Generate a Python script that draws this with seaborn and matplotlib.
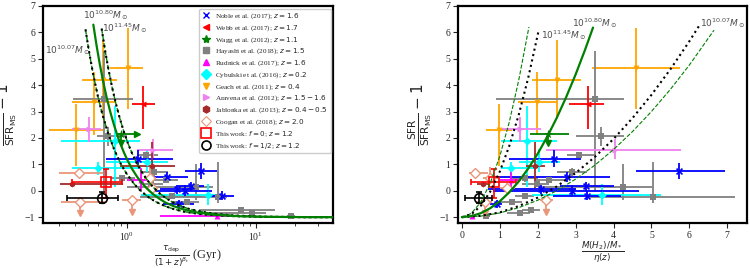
import numpy as np
import matplotlib
matplotlib.use('Agg')
import matplotlib.pyplot as plt
from matplotlib.lines import Line2D
import seaborn as sns

sns.set_style('ticks')
plt.rcParams['font.family'] = ['Liberation Serif', 'DejaVu Serif']
plt.rcParams['mathtext.fontset'] = 'dejavusans'
plt.rcParams['xtick.direction'] = 'out'
plt.rcParams['ytick.direction'] = 'out'

# ---- data: y = SFR/SFR_MS - 1, tau = left x (Gyr), mu = right x ----
# Geach et al. (2011)
geach_y = [2.3, 3.35, 4.2, 4.65]
geach_ylo = [0.95, 2.1, 2.75, 3.1]
geach_yhi = [3.3, 4.5, 5.7, 6.15]
geach_tau = [0.405, 0.56, 0.66, 1.03]
geach_taulo = [0.25, 0.375, 0.45, 0.74]
geach_tauhi = [0.66, 0.81, 0.84, 1.33]
geach_mu = [0.98, 1.99, 2.5, 4.58]
geach_mulo = [0.63, 1.47, 1.86, 3.44]
geach_muhi = [1.33, 2.52, 3.13, 5.76]

# Webb et al. (2017)
webb_y = [3.3]
webb_ylo = [2.35]
webb_yhi = [3.95]
webb_tau = [1.34]
webb_taulo = [1.09]
webb_tauhi = [1.66]
webb_mu = [3.32]
webb_mulo = [2.82]
webb_muhi = [3.75]

# Wagg et al. (2012): limits
wagg_y = [2.15]
wagg_ylim = [1.8]
wagg_tau = [0.9]
wagg_taulo = [0.85]
wagg_tauhi = [1.2]
wagg_mu = [2.27]
wagg_mulo = [1.79]
wagg_muhi = [2.82]

# Hayashi et al. (2018)
hay_y = [3.46, 2.07, 1.35, 0.70, 0.15, -0.23, 0.49, 0.40, 0.27, -0.20, -0.42, -0.71, -0.84, -0.96]
hay_ylo = [0.0, 1.7, 1.25, 0.55, -0.36, -0.48, 0.35, 0.32, 0.2, -0.28, -0.5, -0.78, -0.9, -1.0]
hay_yhi = [5.3, 2.4, 1.45, 0.85, 1.0, 1.09, 0.6, 0.48, 0.34, -0.12, -0.34, -0.64, -0.78, -0.92]
hay_tau = [0.67, 0.72, 1.40, 1.63, 3.44, 5.10, 0.92, 2.01, 1.55, 2.23, 2.91, 7.6, 9.4, 18.6]
hay_taulo = [0.386, 0.585, 1.2, 1.3, 1.0, 1.27, 0.75, 1.6, 1.3, 1.3, 2.2, 3.6, 4.5, 17.5]
hay_tauhi = [1.11, 1.0, 1.75, 2.1, 4.67, 5.93, 1.15, 2.5, 1.9, 3.8, 3.6, 14.0, 12.0, 20.0]
hay_mu = [3.50, 3.68, 3.10, 2.91, 4.25, 5.03, 1.67, 2.30, 1.98, 1.66, 1.32, 1.82, 1.53, 0.65]
hay_mulo = [0.89, 3.0, 2.78, 2.5, 2.03, 3.3, 1.3, 1.9, 1.6, 1.4, 1.0, 1.6, 1.2, 0.55]
hay_muhi = [4.27, 4.27, 3.53, 3.3, 5.02, 7.2, 2.0, 2.7, 2.3, 1.9, 1.6, 2.05, 1.8, 0.75]

# Noble et al. (2017)
noble_y = [1.22, 0.74, 0.53, 0.17, 0.0, 0.05, -0.18, -0.5]
noble_ylo = [0.9, 0.45, 0.35, 0.0, -0.2, -0.12, -0.35, -0.65]
noble_yhi = [1.55, 1.05, 0.7, 0.35, 0.2, 0.22, 0.0, -0.35]
noble_tau = [1.23, 3.76, 2.04, 3.14, 2.82, 2.44, 5.43, 2.55]
noble_taulo = [0.69, 2.83, 1.5, 2.5, 1.6, 1.8, 4.3, 1.9]
noble_tauhi = [2.29, 4.96, 3.0, 4.0, 4.6, 3.4, 6.8, 3.3]
noble_mu = [2.43, 5.74, 2.78, 3.28, 2.91, 2.1, 3.3, 0.92]
noble_mulo = [1.25, 4.58, 0.8, 2.6, 0.81, 0.7, 2.4, 0.75]
noble_muhi = [3.13, 6.95, 3.92, 4.0, 4.67, 3.0, 4.2, 1.05]

# Rudnick et al. (2017)
rud_y = [-0.96, 0.4]
rud_ylo = [-1.0, 0.0]
rud_yhi = [-0.92, 0.85]
rud_tau = [4.97, 1.3]
rud_taulo = [1.81, 1.0]
rud_tauhi = [6.47, 1.5]
rud_mu = [0.28, 1.3]
rud_mulo = [0.22, 1.0]
rud_muhi = [0.34, 1.55]

# Cybulski et al. (2016)
cyb_y = [1.89, 1.09, 0.85, -0.17]
cyb_ylo = [0.15, 0.7, 0.6, -0.55]
cyb_yhi = [3.2, 1.6, 1.1, 0.25]
cyb_tau = [0.81, 1.43, 0.6, 4.28]
cyb_taulo = [0.31, 0.69, 0.38, 1.3]
cyb_tauhi = [1.26, 2.1, 1.3, 5.0]
cyb_mu = [1.73, 2.03, 1.3, 3.7]
cyb_mulo = [1.03, 1.5, 1.03, 1.86]
cyb_muhi = [2.52, 2.6, 1.95, 5.24]

# Aravena et al. (2012)
ara_y = [2.33, 1.54]
ara_ylo = [1.85, 1.2]
ara_yhi = [2.8, 1.95]
ara_tau = [0.514, 1.61]
ara_taulo = [0.38, 1.2]
ara_tauhi = [0.63, 2.3]
ara_mu = [1.53, 4.05]
ara_mulo = [1.07, 2.21]
ara_muhi = [2.08, 5.79]

# Jablonka et al. (2013)
jab_y = [0.94, 0.25]
jab_ylo = [0.1, 0.15]
jab_yhi = [1.85, 0.35]
jab_tau = [1.56, 0.38]
jab_taulo = [0.89, 0.305]
jab_tauhi = [2.36, 0.94]
jab_mu = [1.92, 0.56]
jab_mulo = [1.7, 0.4]
jab_muhi = [2.2, 0.75]

# Coogan et al. (2018); the two upper limits end in arrows
coo_y = [0.69, 0.47, 0.09, -0.42, -0.36]
coo_ylo = [0.55, 0.3, -0.1, -0.86, -0.80]
coo_yhi = [0.8, 0.9, 0.3, -0.42, -0.36]
coo_lim = [False, False, False, True, True]
coo_tau = [0.43, 1.51, 1.56, 0.435, 1.09]
coo_taulo = [0.3, 1.35, 1.4, 0.31, 0.92]
coo_tauhi = [0.66, 1.7, 1.75, 0.70, 1.3]
coo_mu = [0.35, 0.75, 1.2, 0.6, 2.23]
coo_mulo = [0.2, 0.55, 1.0, 0.4, 2.05]
coo_muhi = [0.7, 0.95, 1.4, 0.8, 2.4]

# This work
tw0_y, tw0_ylo, tw0_yhi = [0.34], [-0.29], [0.84]
tw0_tau, tw0_taulo, tw0_tauhi = [0.69], [0.38], [0.915]
tw0_mu, tw0_mulo, tw0_muhi = [0.85], [0.24], [1.42]
tw1_y, tw1_ylo, tw1_yhi = [-0.26], [-0.48], [-0.04]
tw1_tau, tw1_taulo, tw1_tauhi = [0.64], [0.344], [0.86]
tw1_mu, tw1_mulo, tw1_muhi = [0.44], [0.09], [0.79]

# model tracks
l1007_tau = [0.48, 0.51, 0.55, 0.6, 0.65, 0.72, 0.8, 0.9, 1.0, 1.15, 1.3, 1.5, 1.7, 2.0, 2.3, 2.7, 3.2, 4.0, 5.0, 6.5, 8.0, 11.0, 15.0, 25.0, 40.0]
l1007_y = [6.11, 5.3, 4.42, 3.55, 2.88, 2.16, 1.56, 1.02, 0.64, 0.24, -0.03, -0.27, -0.43, -0.59, -0.69, -0.78, -0.84, -0.9, -0.93, -0.96, -0.97, -0.99, -0.99, -1.0, -1.0]
l1145_tau = [0.64, 0.68, 0.72, 0.77, 0.82, 0.88, 0.95, 1.02, 1.1, 1.2, 1.3, 1.45, 1.6, 1.8, 2.0, 2.3, 2.6, 3.0, 3.5, 4.2, 5.0, 6.5, 8.0, 11.0, 15.0, 25.0, 40.0]
l1145_y = [6.14, 5.32, 4.64, 3.93, 3.35, 2.78, 2.24, 1.81, 1.42, 1.03, 0.73, 0.39, 0.14, -0.1, -0.27, -0.45, -0.57, -0.68, -0.76, -0.83, -0.88, -0.93, -0.95, -0.98, -0.99, -1.0, -1.0]
l1080_tau = [0.552, 0.585, 0.62, 0.66, 0.7, 0.75, 0.8, 0.87, 0.95, 1.02, 1.1, 1.2, 1.3, 1.45, 1.6, 1.8, 2.0, 2.3, 2.6, 3.0, 3.5, 4.2, 5.0, 6.5, 8.0, 11.0, 15.0, 25.0, 40.0]
l1080_y = [6.29, 5.49, 4.78, 4.1, 3.53, 2.95, 2.47, 1.93, 1.46, 1.13, 0.83, 0.54, 0.31, 0.06, -0.13, -0.31, -0.45, -0.58, -0.67, -0.75, -0.82, -0.87, -0.91, -0.95, -0.97, -0.98, -0.99, -1.0, -1.0]

r1145_mu = [0.0, 0.25, 0.5, 0.75, 1.0, 1.25, 1.5, 1.75, 2.03]
r1145_y = [-1.0, -0.89, -0.57, -0.03, 0.72, 1.69, 2.87, 4.27, 6.09]
r1145d_mu = [0.0, 0.25, 0.5, 0.75, 1.0, 1.25, 1.5, 1.77]
r1145d_y = [-1.0, -0.86, -0.43, 0.29, 1.3, 2.59, 4.18, 6.2]
r1080_mu = [0.0, 0.25, 0.5, 0.75, 1.0, 1.25, 1.5, 1.75, 2.0, 2.25, 2.5, 2.75, 3.0, 3.25, 3.46]
r1080_y = [-1.0, -0.96, -0.85, -0.66, -0.4, -0.06, 0.35, 0.84, 1.4, 2.04, 2.75, 3.54, 4.4, 5.34, 6.18]
r1007_mu = [0.0, 0.5, 1.0, 1.5, 2.0, 2.5, 3.0, 3.5, 4.0, 4.5, 5.0, 5.5, 6.0, 6.25]
r1007_y = [-1.0, -0.95, -0.82, -0.58, -0.26, 0.16, 0.67, 1.27, 1.96, 2.75, 3.63, 4.6, 5.66, 6.23]
r1007d_mu = [0.0, 0.5, 1.0, 1.5, 2.0, 2.5, 3.0, 3.5, 4.0, 4.5, 5.0, 5.5, 6.0, 6.65]
r1007d_y = [-1.0, -0.96, -0.84, -0.64, -0.36, 0.0, 0.44, 0.96, 1.56, 2.24, 3.0, 3.84, 4.76, 6.08]

C_GEACH, C_WEBB, C_WAGG, C_HAY = '#FFA500', '#FF0000', 'green', 'gray'
C_NOBLE, C_RUD, C_CYB, C_ARA = '#0000FF', '#FF00FF', '#00FFFF', 'violet'
C_JAB, C_COO = 'brown', 'darksalmon'


def bars(ax, x, xlo, xhi, y, ylo, yhi, color, z=2, **kw):
    x, xlo, xhi = np.array(x), np.array(xlo), np.array(xhi)
    y, ylo, yhi = np.array(y), np.array(ylo), np.array(yhi)
    ax.errorbar(x, y, xerr=[x - xlo, xhi - x], yerr=[y - ylo, yhi - y], fmt='none',
                ecolor=color, elinewidth=1.3, capsize=0, zorder=z, **kw)


def points(ax, x, y, color, marker, s=18, lw=0):
    sns.scatterplot(x=x, y=y, ax=ax, marker=marker, color=color, s=s,
                    linewidth=lw, edgecolor=color, zorder=4, legend=False)


def panel(ax, xkey):
    sets = [
        (geach_y, geach_ylo, geach_yhi, geach_tau, geach_taulo, geach_tauhi, geach_mu, geach_mulo, geach_muhi, C_GEACH, 'v'),
        (hay_y, hay_ylo, hay_yhi, hay_tau, hay_taulo, hay_tauhi, hay_mu, hay_mulo, hay_muhi, C_HAY, 's'),
        (cyb_y, cyb_ylo, cyb_yhi, cyb_tau, cyb_taulo, cyb_tauhi, cyb_mu, cyb_mulo, cyb_muhi, C_CYB, 'D'),
        (ara_y, ara_ylo, ara_yhi, ara_tau, ara_taulo, ara_tauhi, ara_mu, ara_mulo, ara_muhi, C_ARA, '>'),
        (noble_y, noble_ylo, noble_yhi, noble_tau, noble_taulo, noble_tauhi, noble_mu, noble_mulo, noble_muhi, C_NOBLE, 'x'),
        (rud_y, rud_ylo, rud_yhi, rud_tau, rud_taulo, rud_tauhi, rud_mu, rud_mulo, rud_muhi, C_RUD, '^'),
        (jab_y, jab_ylo, jab_yhi, jab_tau, jab_taulo, jab_tauhi, jab_mu, jab_mulo, jab_muhi, C_JAB, 'h'),
        (webb_y, webb_ylo, webb_yhi, webb_tau, webb_taulo, webb_tauhi, webb_mu, webb_mulo, webb_muhi, C_WEBB, '<'),
    ]
    for y, ylo, yhi, t, tlo, thi, m, mlo, mhi, c, mk in sets:
        x, xlo, xhi = (t, tlo, thi) if xkey == 'tau' else (m, mlo, mhi)
        bars(ax, x, xlo, xhi, y, ylo, yhi, c)
        points(ax, x, y, c, mk, lw=1.2 if mk == 'x' else 0)

    # Coogan: open diamonds, two upper limits
    x, xlo, xhi = (coo_tau, coo_taulo, coo_tauhi) if xkey == 'tau' else (coo_mu, coo_mulo, coo_muhi)
    bars(ax, x, xlo, xhi, coo_y, coo_ylo, coo_yhi, C_COO)
    ax.plot(x, coo_y, 'D', mfc='white', mec=C_COO, ms=5, mew=1.0, ls='none', zorder=4)
    lim = np.array(coo_lim)
    ax.plot(np.array(x)[lim], np.array(coo_ylo)[lim], 'v', color=C_COO, ms=4.5, ls='none', zorder=4)

    # Wagg: star with limits
    if xkey == 'tau':
        bars(ax, wagg_tau, wagg_taulo, wagg_tauhi, wagg_y, wagg_ylim, wagg_y, C_WAGG)
        ax.plot(wagg_tauhi, wagg_y, '>', color=C_WAGG, ms=5, ls='none', zorder=4)
        ax.plot(wagg_tau, wagg_ylim, 'v', color=C_WAGG, ms=5, ls='none', zorder=4)
        points(ax, wagg_tau, wagg_y, C_WAGG, '*', s=45)
    else:
        bars(ax, wagg_mu, wagg_mulo, wagg_muhi, wagg_y, wagg_ylim, wagg_y, C_WAGG)
        ax.plot(wagg_mu, wagg_ylim, 'v', color=C_WAGG, ms=5, ls='none', zorder=4)
        points(ax, wagg_mu, wagg_y, C_WAGG, '*', s=45)

    # this work
    for vals, c, mk in [((tw0_tau, tw0_taulo, tw0_tauhi, tw0_mu, tw0_mulo, tw0_muhi, tw0_y, tw0_ylo, tw0_yhi), 'red', 's'),
                        ((tw1_tau, tw1_taulo, tw1_tauhi, tw1_mu, tw1_mulo, tw1_muhi, tw1_y, tw1_ylo, tw1_yhi), 'black', 'o')]:
        t, tlo, thi, m, mlo, mhi, y, ylo, yhi = vals
        x, xlo, xhi = (t, tlo, thi) if xkey == 'tau' else (m, mlo, mhi)
        x, y = np.array(x), np.array(y)
        ax.errorbar(x, y, xerr=[x - np.array(xlo), np.array(xhi) - x],
                    yerr=[y - np.array(ylo), np.array(yhi) - y], fmt=mk, mfc='none', mec=c,
                    ms=7, mew=1.2, ecolor=c, elinewidth=1.2, capsize=2, capthick=1, zorder=5)


fig = plt.figure(figsize=(7.5, 2.68), dpi=100)
ax1 = fig.add_axes([0.0573, 0.168, 0.3867, 0.81])
ax2 = fig.add_axes([0.6107, 0.168, 0.3853, 0.81])

panel(ax1, 'tau')
panel(ax2, 'mu')

# model curves
for tx, ty in [(l1007_tau, l1007_y), (l1145_tau, l1145_y)]:
    sns.lineplot(x=tx, y=ty, ax=ax1, color='green', lw=1.0, ls='--', sort=False, zorder=6)
    sns.lineplot(x=tx, y=ty, ax=ax1, color='black', lw=1.5, ls=':', sort=False, zorder=7)
sns.lineplot(x=l1080_tau, y=l1080_y, ax=ax1, color='green', lw=1.6, sort=False, zorder=7)

sns.lineplot(x=r1145d_mu, y=r1145d_y, ax=ax2, color='green', lw=0.8, ls='--', sort=False, zorder=6)
sns.lineplot(x=r1007d_mu, y=r1007d_y, ax=ax2, color='green', lw=0.8, ls='--', sort=False, zorder=6)
sns.lineplot(x=r1145_mu, y=r1145_y, ax=ax2, color='black', lw=1.5, ls=':', sort=False, zorder=7)
sns.lineplot(x=r1007_mu, y=r1007_y, ax=ax2, color='black', lw=1.5, ls=':', sort=False, zorder=7)
sns.lineplot(x=r1080_mu, y=r1080_y, ax=ax2, color='green', lw=1.6, sort=False, zorder=7)

lab_kw = dict(fontsize=6.5, color='0.3', zorder=8)
ax1.text(0.459, 6.65, r'$10^{10.80}M_\odot$', va='center', **lab_kw)
ax1.text(0.644, 6.16, r'$10^{11.45}M_\odot$', va='center', **lab_kw)
ax1.text(0.233, 5.33, r'$10^{10.07}M_\odot$', va='center', **lab_kw)
ax2.text(2.91, 6.34, r'$10^{10.80}M_\odot$', va='center', **lab_kw)
ax2.text(2.08, 5.9, r'$10^{11.45}M_\odot$', va='center', **lab_kw)
ax2.text(6.29, 6.36, r'$10^{10.07}M_\odot$', va='center', **lab_kw)

ax1.set_xscale('log')
ax1.set_xlim(0.225, 39.5)
ax2.set_xlim(-0.1, 7.52)
ax2.set_xticks(range(0, 8))
for ax in (ax1, ax2):
    ax.set_ylim(-1.22, 7.0)
    ax.set_yticks(range(-1, 8))
    ax.tick_params(labelsize=7, length=3.5, width=0.8, pad=2)
    ax.tick_params(which='minor', length=2, width=0.6)
    for sp in ax.spines.values():
        sp.set_linewidth(1.6)
        sp.set_color('black')
    ax.set_ylabel(r'$\frac{\mathrm{SFR}}{\mathrm{SFR_{MS}}} - 1$', fontsize=11)

ax1.set_xlabel(r'$\frac{\tau_{\rm dep}}{(1+z)^{\beta_t}}$ (Gyr)', fontsize=9, labelpad=0)
ax2.set_xlabel(r'$\frac{M(H_2)/M_*}{\eta(z)}$', fontsize=9, labelpad=0)

handles = [
    Line2D([], [], marker='x', color=C_NOBLE, ls='none', ms=5, mew=1.0),
    Line2D([], [], marker='<', color=C_WEBB, ls='none', ms=5),
    Line2D([], [], marker='*', color=C_WAGG, ls='none', ms=6),
    Line2D([], [], marker='s', color=C_HAY, ls='none', ms=5),
    Line2D([], [], marker='^', color=C_RUD, ls='none', ms=5),
    Line2D([], [], marker='D', color=C_CYB, ls='none', ms=5),
    Line2D([], [], marker='v', color=C_GEACH, ls='none', ms=5),
    Line2D([], [], marker='>', color=C_ARA, ls='none', ms=5),
    Line2D([], [], marker='h', color=C_JAB, ls='none', ms=5),
    Line2D([], [], marker='D', mfc='none', mec=C_COO, ls='none', ms=5, mew=0.8),
    Line2D([], [], marker='s', mfc='none', mec='red', ls='none', ms=6.5, mew=1.2),
    Line2D([], [], marker='o', mfc='none', mec='black', ls='none', ms=6.5, mew=1.2),
]
labels = [
    r'Noble et al. (2017); $z=1.6$',
    r'Webb et al. (2017); $z=1.7$',
    r'Wagg et al. (2012); $z=1.1$',
    r'Hayashi et al. (2018); $z=1.5$',
    r'Rudnick et al. (2017); $z=1.6$',
    r'Cybulski et al. (2016); $z=0.2$',
    r'Geach et al. (2011); $z=0.4$',
    r'Aravena et al. (2012); $z=1.5-1.6$',
    r'Jablonka et al. (2013); $z=0.4-0.5$',
    r'Coogan et al. (2018); $z=2.0$',
    r'This work: $f=0$; $z=1.2$',
    r'This work: $f=1/2$; $z=1.2$',
]
leg = ax1.legend(handles, labels, loc='upper right', bbox_to_anchor=(0.992, 0.988),
                 borderaxespad=0, fontsize=5.2, labelspacing=0.28, handletextpad=0.6,
                 handlelength=1.2, borderpad=0.4, framealpha=1)
leg.set_zorder(10)

fig.savefig('out.png', dpi=100)
